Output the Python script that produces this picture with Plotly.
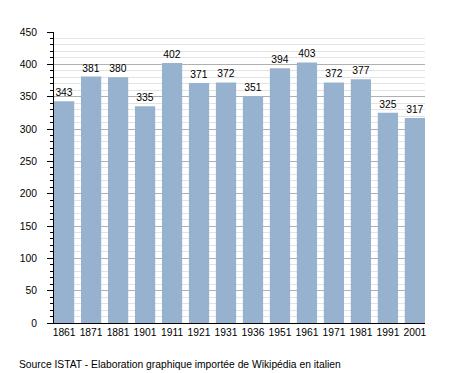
import plotly.graph_objects as go

years = ["1861", "1871", "1881", "1901", "1911", "1921", "1931", "1936", "1951", "1961", "1971", "1981", "1991", "2001"]
population = [343, 381, 380, 335, 402, 371, 372, 351, 394, 403, 372, 377, 325, 317]
source_note = "Source ISTAT - Elaboration graphique importée de Wikipédia en italien"

fig = go.Figure()
fig.add_trace(go.Bar(
    x=years, y=population,
    marker=dict(color="#97b2cf", line=dict(width=0)),
    text=[str(v) for v in population],
    textposition="outside",
    textfont=dict(family="Liberation Sans, Arial", size=10.3, color="#000"),
    cliponaxis=False,
))
fig.update_layout(
    width=447, height=365,
    margin=dict(l=43, r=30, t=24, b=50),
    paper_bgcolor="white", plot_bgcolor="white",
    bargap=0.25,
    showlegend=False,
    font=dict(family="Liberation Sans, Arial", size=10, color="#000"),
    annotations=[dict(text=source_note, xref="paper", yref="paper", x=-0.099, y=-0.141,
                      xanchor="left", yanchor="middle", showarrow=False,
                      font=dict(size=10.3, color="#000"))],
)
fig.update_xaxes(range=[-0.375, 13.375], showline=True, linecolor="#000", linewidth=1,
                 ticks="", tickfont=dict(size=10.3))
fig.update_yaxes(range=[0, 450], dtick=50, showline=True, linecolor="#000", linewidth=1,
                 ticks="outside", ticklen=6, tickcolor="#000", ticklabelstandoff=8,
                 showgrid=True, gridcolor="#b0b0b0",
                 zeroline=False, tickfont=dict(size=10.3),
                 minor=dict(dtick=10, showgrid=True, gridcolor="#e3e3e3", ticks="outside", ticklen=3, tickcolor="#000"))
fig.write_html("out.html")
